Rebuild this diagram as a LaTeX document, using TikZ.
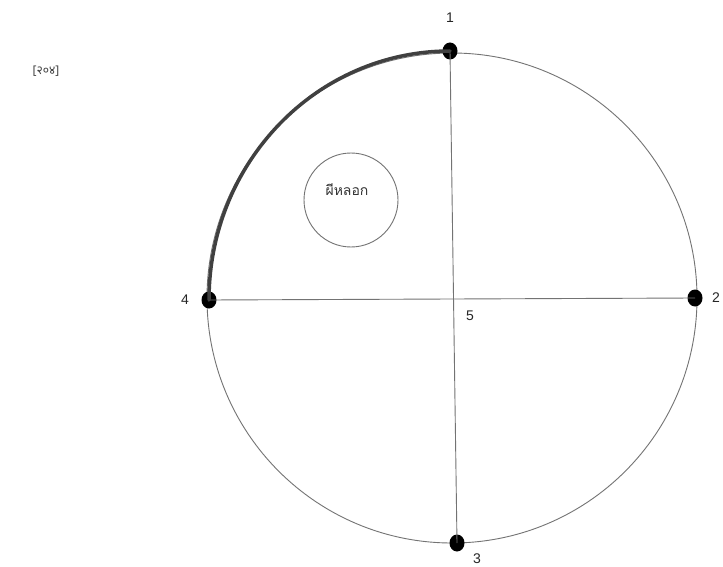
\documentclass[tikz,border=0pt]{standalone}
\usepackage{fontspec}
\usetikzlibrary{shapes.geometric}
\newfontfamily\thaifont[Script=Thai]{Loma}
\newfontfamily\devafont[Script=Devanagari]{Noto Sans}
\setmainfont{Liberation Sans}
\begin{document}
\begin{tikzpicture}[x=1pt,y=-1pt,
  thin line/.style={draw=black!55,line width=0.9pt},
  dot/.style={ellipse,fill=black,inner sep=0pt,minimum width=15pt,minimum height=17pt},
  lbl/.style={font=\fontsize{14}{14}\selectfont,text=black!85}]
\useasboundingbox[fill=white] (0,0) rectangle (723,567);
\coordinate (c) at (452,298);
\draw[thin line] (c) circle[radius=245];
\node[dot] (p1) at (450,51) {};
\node[dot] (p2) at (695,298) {};
\node[dot] (p3) at (457,543) {};
\node[dot] (p4) at (209,300) {};
\draw[thin line] (p1.center) -- (p3.center);
\draw[thin line] (p4.center) -- (p2.center);
\draw[black!75,line width=3.5pt,line cap=round] (p4.center) arc[start angle=180,end angle=270,x radius=241,y radius=249];
\node[circle,thin line,minimum size=94pt,inner sep=0pt] (sc) at (351,200) {};
\node[font=\thaifont\fontsize{14}{14}\selectfont,text=black!80] (t) at (347,190) {ผีหลอก};
\node[lbl,anchor=center] (l1) at (450,18) {1};
\node[lbl] (l2) at (716,298) {2};
\node[lbl] (l3) at (477,559) {3};
\node[lbl] (l4) at (185,300) {4};
\node[lbl] (l5) at (470,316) {5};
\node[font=\devafont\fontsize{12}{12}\selectfont,text=black!75] (ref) at (46,71) {[२०४]};
\end{tikzpicture}
\end{document}
